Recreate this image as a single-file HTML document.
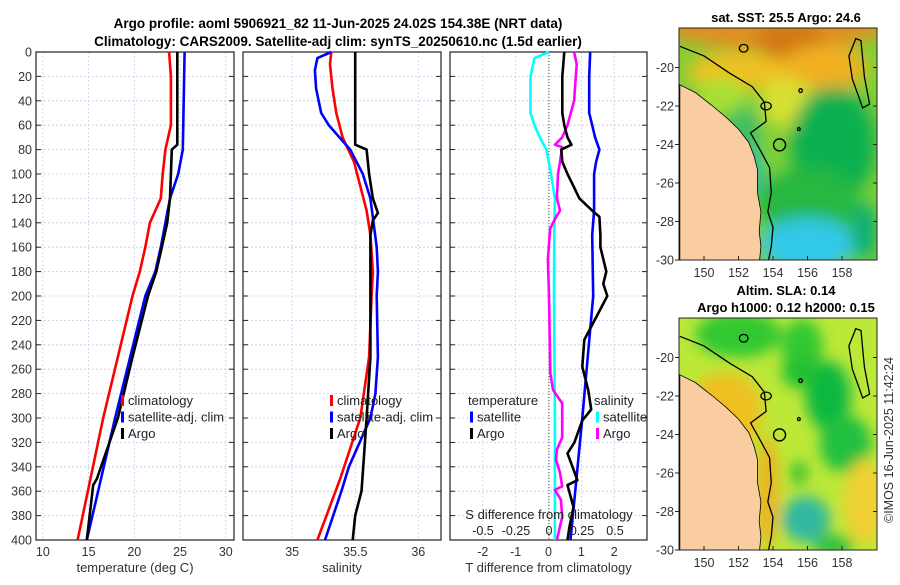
<!DOCTYPE html>
<html><head><meta charset="utf-8">
<style>
body{margin:0;background:#fff;}
svg text{font-family:"Liberation Sans","DejaVu Sans",sans-serif;}
</style></head>
<body>
<svg id="chart" width="900" height="580" viewBox="0 0 900 580" xmlns="http://www.w3.org/2000/svg">
<rect width="900" height="580" fill="#fff"/>
<text x="338" y="28" font-size="13.5" font-weight="bold" text-anchor="middle">Argo profile: aoml 5906921_82 11-Jun-2025 24.02S 154.38E (NRT data)</text>
<text x="338" y="46" font-size="13.5" font-weight="bold" text-anchor="middle">Climatology: CARS2009. Satellite-adj clim: synTS_20250610.nc (1.5d earlier)</text>
<g id="panels"></g>
<g id="maps"></g>
</svg>
<script>
// ---- data ----
const tClimDepth=[0,20,60,80,100,120,140,160,180,200,300,400];
const tClimVal=[23.8,24.0,24.0,23.4,23.1,22.9,21.7,21.2,20.6,19.8,16.6,13.8];
const tSatDepth=[0,80,100,120,140,160,180,200,300,400];
const tSatVal=[25.5,25.3,24.8,23.9,23.4,22.9,22.3,21.2,17.9,14.8];
const tArgoDepth=[0,76,80,100,120,140,160,180,200,250,300,350,355,400];
const tArgoVal=[24.7,24.7,24.1,24.0,23.9,23.6,23.0,22.4,21.5,19.8,18.2,15.9,15.5,14.8];

const sClimDepth=[0,10,30,50,70,90,110,130,150,180,200,250,300,350,400];
const sClimVal=[35.31,35.30,35.32,35.35,35.40,35.49,35.54,35.59,35.62,35.64,35.63,35.61,35.54,35.38,35.20];
const sSatDepth=[0,5,15,30,50,60,80,100,120,160,180,200,250,280,300,340,360,400];
const sSatVal=[35.31,35.20,35.18,35.19,35.23,35.29,35.46,35.56,35.62,35.67,35.68,35.67,35.68,35.66,35.62,35.45,35.39,35.26];
const sArgoDepth=[0,76,80,100,120,132,138,150,200,250,300,330,360,380,400];
const sArgoVal=[35.5,35.5,35.59,35.61,35.64,35.68,35.64,35.62,35.62,35.62,35.59,35.57,35.55,35.50,35.48];

const dTSatDepth=[0,20,50,60,70,80,90,100,130,150,200,300,400];
const dTSatVal=[1.27,1.24,1.24,1.33,1.42,1.55,1.45,1.39,1.39,1.33,1.36,1.03,0.67];
const dTArgoDepth=[0,20,50,60,70,76,80,90,100,110,120,130,135,150,160,180,190,200,236,258,277,293,302,320,329,340,351,355,373,389,400];
const dTArgoVal=[0.48,0.42,0.42,0.48,0.58,0.70,0.39,0.42,0.58,0.76,0.94,1.33,1.55,1.58,1.58,1.76,1.67,1.79,1.09,1.03,1.21,1.30,1.03,0.79,0.58,0.73,0.88,0.58,0.76,0.64,0.58];
const dSArgoDepth=[0,10,40,60,70,76,78,90,100,120,130,137,145,170,200,263,277,288,316,326,334,345,356,359,367,381,400];
const dSArgoVal=[0.19,0.21,0.19,0.14,0.10,0.045,0.10,0.083,0.068,0.06,0.083,0.045,0.008,-0.008,0,0.01,0.03,0.10,0.10,0.06,0.053,0.083,0.10,0.045,0.09,0.10,0.06];
const dSSatDepth=[0,5,20,50,60,70,80,100,120,150,200,300,400];
const dSSatVal=[0,-0.11,-0.14,-0.14,-0.11,-0.07,-0.02,0.015,0.045,0.04,0.038,0.045,0.045];

const depthTicks=[0,20,40,60,80,100,120,140,160,180,200,220,240,260,280,300,320,340,360,380,400];
const tTicks=[10,15,20,25,30];
const sTicks=[35,35.5,36];
const dTTicks=[-2,-1,0,1,2];
const dSTicks=[-0.5,-0.25,0,0.25,0.5];
const dSTickLabels=["-0.5","-0.25","0","0.25","0.5"];

const NS="http://www.w3.org/2000/svg";
function mk(tag,attrs,parent){const e=document.createElementNS(NS,tag);for(const k in attrs)e.setAttribute(k,attrs[k]);parent.appendChild(e);return e;}
const Y0=52,Y1=540;
const yScale=d=>Y0+(d/400)*(Y1-Y0);
const panelsG=document.getElementById('panels');

function panel(name,x0,x1,xmin,xmax,ticks,labels,xlabel,showY){
  const xs=v=>x0+(v-xmin)/(xmax-xmin)*(x1-x0);
  const g=mk('g',{},panelsG);
  
  
  depthTicks.forEach(d=>{
    const l=mk('line',{x1:x0,x2:x1,y1:yScale(d),y2:yScale(d),stroke:'#c8cce8','stroke-width':0.8,'stroke-dasharray':'2,2'},g);
    
    
    mk('line',{x1:x0,x2:x0+5,y1:yScale(d),y2:yScale(d),stroke:'#222'},g);
    mk('line',{x1:x1,x2:x1-5,y1:yScale(d),y2:yScale(d),stroke:'#222'},g);
    if(showY){const t=mk('text',{x:x0-4,y:yScale(d)+4.5,'font-size':12.5,'text-anchor':'end',fill:'#333'},g);t.textContent=d;
      }
  });
  ticks.forEach((v,i)=>{
    const l=mk('line',{x1:xs(v),x2:xs(v),y1:Y0,y2:Y1,stroke:'#c8cce8','stroke-width':0.8,'stroke-dasharray':'2,2'},g);
    
    
    const t=mk('text',{x:xs(v),y:556,'font-size':12.5,'text-anchor':'middle',fill:'#333'},g);t.textContent=labels[i];
    
  });
  const r=mk('rect',{x:x0,y:Y0,width:x1-x0,height:Y1-Y0,fill:'none',stroke:'#222','stroke-width':1.2},g);
  
  const xl=mk('text',{x:(x0+x1)/2,y:572,'font-size':13,'text-anchor':'middle',fill:'#333'},g);xl.textContent=xlabel;
  
  return {g,xs};
}
function series(p,depths,vals,color,name,scaleFn){
  const xs=scaleFn||p.xs;
  const pts=depths.map((d,i)=>xs(vals[i]).toFixed(1)+','+yScale(d).toFixed(1)).join(' ');
  const pl=mk('polyline',{points:pts,fill:'none',stroke:color,'stroke-width':2.6,'stroke-linejoin':'round'},p.g);
  
  
}
function legend(g,x,y,items){
  items.forEach((it,i)=>{
    const yy=y+i*16.5;
    if(it.c){const m=mk('rect',{x:x,y:yy-10,width:3,height:11,fill:it.c},g);
      }
    const t=mk('text',{x:x+(it.c?7:-2),y:yy,'font-size':13,fill:'#222'},g);t.textContent=it.t;
    
  });
}
// Panel 1 temperature
const p1=panel('temperature-panel',36,234,9.25,30.9,tTicks,tTicks.map(String),'temperature (deg C)',true);
series(p1,tClimDepth,tClimVal,'#ff0000','climatology-temp-line');
series(p1,tSatDepth,tSatVal,'#0000ff','satellite-temp-line');
series(p1,tArgoDepth,tArgoVal,'#000','argo-temp-line');
legend(p1.g,121,405,[{c:'#ff0000',t:'climatology'},{c:'#0000ff',t:'satellite-adj. clim'},{c:'#000',t:'Argo'}]);
// Panel 2 salinity
const p2=panel('salinity-panel',243,441,34.61,36.18,sTicks,['35','35.5','36'],'salinity',false);
series(p2,sClimDepth,sClimVal,'#ff0000','climatology-salinity-line');
series(p2,sSatDepth,sSatVal,'#0000ff','satellite-salinity-line');
series(p2,sArgoDepth,sArgoVal,'#000','argo-salinity-line');
legend(p2.g,330,405,[{c:'#ff0000',t:'climatology'},{c:'#0000ff',t:'satellite-adj. clim'},{c:'#000',t:'Argo'}]);
// Panel 3 differences
const p3=panel('difference-panel',450,647,-3,3,dTTicks,dTTicks.map(String),'T difference from climatology',false);
const sx=v=>549+v*132;
const zl=mk('line',{x1:549,x2:549,y1:Y0,y2:Y1,stroke:'#445522','stroke-width':1,'stroke-dasharray':'1,2'},p3.g);

series(p3,dSSatDepth,dSSatVal,'#00ffff','salinity-satellite-diff-line',sx);
series(p3,dSArgoDepth,dSArgoVal,'#ff00ff','salinity-argo-diff-line',sx);
series(p3,dTSatDepth,dTSatVal,'#0000ff','temperature-satellite-diff-line');
series(p3,dTArgoDepth,dTArgoVal,'#000','temperature-argo-diff-line');
legend(p3.g,470,405,[{t:'temperature'},{c:'#0000ff',t:'satellite'},{c:'#000',t:'Argo'}]);
legend(p3.g,596,405,[{t:'salinity'},{c:'#00ffff',t:'satellite'},{c:'#ff00ff',t:'Argo'}]);
const st=mk('text',{x:549,y:519,'font-size':13,'text-anchor':'middle',fill:'#222'},p3.g);st.textContent='S difference from climatology';

dSTicks.forEach((v,i)=>{const t=mk('text',{x:sx(v),y:535,'font-size':12.5,'text-anchor':'middle',fill:'#222'},p3.g);t.textContent=dSTickLabels[i];
  });

// ---- maps ----
const lonTicks=[150,152,154,156,158];
const latTicks=[-20,-22,-24,-26,-28,-30];
const mapsG=document.getElementById('maps');
function map(name,top,title,blobs,base,blur){
  const X0=679,X1=877,B=top+232,T=top;
  const lx=lon=>704+(lon-150)*17.25;
  const latY=lat=>B-(lat+30)*19.25;
  const g=mk('g',{},mapsG);
  
  const id=name+'-clip';
  const cp=mk('clipPath',{id:id},g);mk('rect',{x:X0,y:T,width:X1-X0,height:B-T},cp);
  const inner=mk('g',{'clip-path':'url(#'+id+')'},g);
  mk('rect',{x:X0,y:T,width:X1-X0,height:B-T,fill:base},inner);
  const f=mk('filter',{id:name+'-blur',x:'-50%',y:'-50%',width:'200%',height:'200%'},g);
  mk('feGaussianBlur',{stdDeviation:blur},f);
  const bg=mk('g',{filter:'url(#'+name+'-blur)'},inner);
  blobs.forEach(b=>mk('ellipse',{cx:lx(b[0]),cy:latY(b[1]),rx:b[2]*17.25,ry:b[3]*19.25,fill:b[4]},bg));
  const land=[[148.6,-20.9],[149.5,-21.3],[150.5,-22.0],[151.3,-22.6],[152.0,-23.2],[152.6,-23.9],[152.9,-24.6],[153.1,-25.3],[153.1,-26.5],[153.3,-27.5],[153.2,-28.5],[153.3,-29.3],[153.2,-30.2],[148.6,-30.2]];
  const lp=mk('polygon',{points:land.map(p=>lx(p[0])+','+latY(p[1])).join(' '),fill:'#f9cda0',stroke:'#000','stroke-width':0.8},inner);
  
  const iso=[[148.6,-18.9],[150,-19.4],[151.5,-20.3],[152.8,-21.0],[153.5,-21.8],[153.6,-22.8],[152.7,-23.4],[153.2,-24.2],[153.8,-25.2],[153.9,-26.5],[153.7,-27.5],[154.0,-28.3],[153.9,-29.3],[153.7,-30.2]];
  const il=mk('polyline',{points:iso.map(p=>lx(p[0])+','+latY(p[1])).join(' '),fill:'none',stroke:'#000','stroke-width':1.3},inner);
  
  const reef=[[158.4,-19.4],[158.8,-18.5],[159.1,-18.6],[159.3,-20.5],[159.6,-21.9],[159.2,-22.1],[158.6,-20.6]];
  mk('polygon',{points:reef.map(p=>lx(p[0])+','+latY(p[1])).join(' '),fill:'none',stroke:'#000','stroke-width':1.3},inner);
  [[152.3,-19,0.25,0.2],[155.6,-21.2,0.1,0.1],[153.6,-22,0.3,0.2],[155.5,-23.2,0.08,0.08]].forEach(c=>mk('ellipse',{cx:lx(c[0]),cy:latY(c[1]),rx:c[2]*17.25,ry:c[3]*19.25,fill:'none',stroke:'#000','stroke-width':1.3},inner));
  const fl=mk('circle',{cx:lx(154.38),cy:latY(-24.02),r:6,fill:'none',stroke:'#000','stroke-width':1.4},inner);
  
  mk('rect',{x:X0,y:T,width:X1-X0,height:B-T,fill:'none',stroke:'#222','stroke-width':1},g);
  lonTicks.forEach(v=>{mk('line',{x1:lx(v),x2:lx(v),y1:B,y2:B-4,stroke:'#222'},g);
    const t=mk('text',{x:lx(v),y:B+17,'font-size':12.5,'text-anchor':'middle',fill:'#333'},g);t.textContent=v;
    });
  latTicks.forEach(v=>{mk('line',{x1:X1,x2:X1-4,y1:latY(v),y2:latY(v),stroke:'#222'},g);
    mk('line',{x1:X0,x2:X0-4,y1:latY(v),y2:latY(v),stroke:'#222'},g);
    const t=mk('text',{x:X0-5,y:latY(v)+4.5,'font-size':12.5,'text-anchor':'end',fill:'#333'},g);t.textContent=v;
    });
  title.forEach((s,i)=>{const t=mk('text',{x:786,y:T-(title.length-1-i)*17-6,'font-size':13,'font-weight':'bold','text-anchor':'middle'},g);t.textContent=s;
    });
}
map('sst-map',28,['sat. SST: 25.5  Argo: 24.6'],[
 [154,-17.6,7,1.5,'#e09020'],[155,-18.6,2,1,'#d07818'],[152,-20.2,3,1,'#f0c020'],[157,-20,2.5,1.2,'#f0b020'],
 [154.8,-21.8,1.5,1.3,'#d8e030'],[151,-21.5,1.5,1,'#a8e030'],
 [157.5,-24,2.5,3,'#10b050'],[156,-27,3,1.8,'#28b840'],[152.2,-23.2,1.1,1.2,'#40c060'],
 [152.7,-25.3,0.6,1.3,'#20b8c0'],[156,-29.2,2.8,1.4,'#30c8e8'],[159.3,-28.5,0.8,1.5,'#10b070']],'#80d038',8);
map('sla-map',318,['Altim. SLA: 0.14','Argo h1000: 0.12 h2000: 0.15'],[
 [152,-18.8,2.5,1.2,'#30c830'],[155.7,-19.5,1.2,1.5,'#30c830'],[157.2,-22,1.3,1.8,'#10b840'],[158.2,-24.5,1.5,1.5,'#20c040'],
 [155.5,-20.8,1,0.8,'#20c030'],[155.9,-28.4,1.4,1.2,'#30b8a0'],[155.5,-26,0.5,0.6,'#30c030'],
 [151.2,-22.8,2.2,2,'#f0c020'],[153.7,-27,0.6,3,'#f0b020'],[159.3,-27.5,1.2,2.2,'#f0d030'],[157.5,-29.8,1.2,0.6,'#30c040']],'#bce838',7);
const cr=mk('text',{x:0,y:0,'font-size':12.5,fill:'#333','text-anchor':'middle',transform:'translate(893,440) rotate(-90)'},mapsG);
cr.textContent='©IMOS 16-Jun-2025 11:42:24';

</script>
</body></html>
